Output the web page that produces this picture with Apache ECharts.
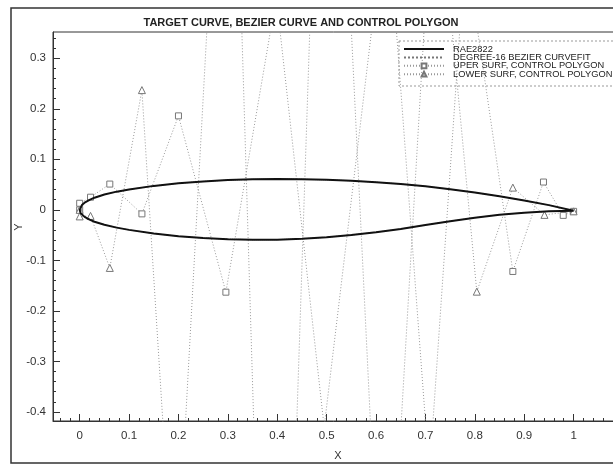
<!DOCTYPE html>
<html lang="en">
<head>
    <meta charset="UTF-8">
    <script src="https://cdn.jsdelivr.net/npm/echarts@6/dist/echarts.min.js"></script>
    <style>
        *{ margin: 0; padding: 0; }
        body { background: #fff; }
        #main { width: 613px; height: 467px; }
    </style>
</head>
<body>
<div id="main"></div>
<script>
    // RAE2822 target section
    var xUpper = [0, 0.002, 0.005, 0.01, 0.02, 0.03, 0.05, 0.075, 0.1, 0.15, 0.2, 0.25, 0.3, 0.35, 0.4, 0.45, 0.5, 0.55, 0.6, 0.65, 0.7, 0.75, 0.8, 0.85, 0.9, 0.95, 1.0];
    var yUpper = [0, 0.0065, 0.0102, 0.0142, 0.0198, 0.0240, 0.0303, 0.0360, 0.0404, 0.0474, 0.0525, 0.0562, 0.0588, 0.0603, 0.0608, 0.0605, 0.0594, 0.0575, 0.0548, 0.0512, 0.0465, 0.0408, 0.0342, 0.0268, 0.0185, 0.0093, -0.002];
    var xLower = [0, 0.002, 0.005, 0.01, 0.02, 0.03, 0.05, 0.075, 0.1, 0.15, 0.2, 0.25, 0.3, 0.35, 0.4, 0.45, 0.5, 0.55, 0.6, 0.65, 0.7, 0.75, 0.8, 0.85, 0.9, 0.95, 1.0];
    var yLower = [0, -0.0065, -0.0100, -0.0140, -0.0195, -0.0236, -0.0296, -0.0352, -0.0397, -0.0470, -0.0522, -0.0558, -0.0580, -0.0592, -0.0590, -0.0574, -0.0543, -0.0498, -0.0442, -0.0378, -0.0300, -0.0225, -0.0155, -0.0098, -0.0057, -0.0030, -0.002];

    // control polygons (vertices outside the frame estimated from where the edges cross it)
    var ctrlUpperX = [0, 0, 0.022, 0.061, 0.126, 0.2, 0.296, 0.398, 0.495, 0.622, 0.708, 0.781, 0.877, 0.939, 0.979, 1.0];
    var ctrlUpperY = [0, 0.013, 0.025, 0.051, -0.008, 0.186, -0.163, 0.421, -0.43, 0.608, -0.523, 0.519, -0.122, 0.055, -0.011, -0.003];
    var ctrlLowerX = [0, 0, 0.022, 0.061, 0.126, 0.193, 0.303, 0.394, 0.50, 0.617, 0.719, 0.804, 0.877, 0.941, 1.0];
    var ctrlLowerY = [0, -0.013, -0.012, -0.115, 0.237, -0.80, 1.17, -1.76, 1.36, -0.99, 0.72, -0.162, 0.044, -0.010, -0.003];

    var xTicks = [0, 0.1, 0.2, 0.3, 0.4, 0.5, 0.6, 0.7, 0.8, 0.9, 1];
    var yTicks = [-0.4, -0.3, -0.2, -0.1, 0, 0.1, 0.2, 0.3];
    var legendNames = ['RAE2822', 'DEGREE-16 BEZIER CURVEFIT', 'UPER SURF, CONTROL POLYGON', 'LOWER SURF, CONTROL POLYGON'];

    var xMin = -0.054, xMax = 1.1;
    var yMin = -0.418, yMax = 0.352;

    function pairs(xs, ys) {
        var out = [];
        for (var i = 0; i < xs.length; i++) out.push([xs[i], ys[i]]);
        return out;
    }
    // closed section: trailing edge -> upper -> leading edge -> lower -> trailing edge
    var section = pairs(xUpper, yUpper).reverse().concat(pairs(xLower, yLower).slice(1));

    function minors(major, lo, hi) {
        var step = (major[1] - major[0]) / 5, out = [];
        var start = Math.ceil(lo / step);
        for (var k = start; k * step <= hi; k++) {
            var v = Math.round(k * step * 1000) / 1000;
            if (major.indexOf(v) < 0) out.push(v);
        }
        return out;
    }

    var myChart = echarts.init(document.getElementById('main'));
    var txt = '#333';
    var font = 'Liberation Sans';
    var hideSym = { opacity: 0 };

    var option = {
        animation: false,
        backgroundColor: '#fff',
        title: {
            text: 'TARGET CURVE, BEZIER CURVE AND CONTROL POLYGON',
            left: 296,
            top: 12,
            textAlign: 'center',
            textStyle: { color: '#222', fontSize: 11, fontWeight: 'bold', fontFamily: font }
        },
        grid: {
            left: 53, right: -10, top: 32, bottom: 46,
            outerBoundsMode: 'none',
            show: true, borderColor: '#333', borderWidth: 1, backgroundColor: 'transparent'
        },
        legend: {
            orient: 'vertical',
            left: 403, top: 44.5,
            itemWidth: 40, itemHeight: 6, itemGap: -0.6,
            padding: 0,
            data: [
                { name: legendNames[0], itemStyle: hideSym },
                { name: legendNames[1], itemStyle: hideSym },
                legendNames[2],
                legendNames[3]
            ],
            textStyle: { color: '#222', fontSize: 9.3, fontFamily: font, padding: [0, 0, 0, 4] }
        },
        graphic: [
            { type: 'rect', z: 0, silent: true,
              shape: { x: 11, y: 8, width: 620, height: 455 },
              style: { fill: 'none', stroke: '#333', lineWidth: 1.5 } },
            { type: 'rect', z: 3, silent: true,
              shape: { x: 399, y: 41, width: 230, height: 45 },
              style: { fill: '#fff', stroke: '#999', lineWidth: 1, lineDash: [2, 2] } },
            { type: 'text', z: 3, silent: true,
              x: 19, y: 227, rotation: Math.PI / 2,
              style: { text: 'Y', fill: txt, font: '11px "Liberation Sans"', align: 'center', verticalAlign: 'middle' } }
        ],
        xAxis: [{
            type: 'value', min: xMin, max: xMax,
            name: 'X', nameLocation: 'middle', nameGap: 29,
            nameTextStyle: { color: txt, fontSize: 11, fontFamily: font },
            axisLine: { show: true, onZero: false, lineStyle: { color: '#333' } },
            axisTick: { show: true, inside: true, length: 7, customValues: xTicks, lineStyle: { color: '#333' } },
            axisLabel: { customValues: xTicks, color: txt, fontSize: 11.5, fontFamily: font, margin: 9,
                formatter: function (v) { return String(+v.toFixed(2)); } },
            splitLine: { show: false }
        }, {
            type: 'value', min: xMin, max: xMax, position: 'bottom',
            axisLine: { show: false, onZero: false },
            axisTick: { show: true, inside: true, length: 3, customValues: minors(xTicks, xMin, xMax), lineStyle: { color: '#333' } },
            axisLabel: { show: false },
            splitLine: { show: false }
        }],
        yAxis: [{
            type: 'value', min: yMin, max: yMax,
            axisLine: { show: true, onZero: false, lineStyle: { color: '#333' } },
            axisTick: { show: true, inside: true, length: 7, customValues: yTicks, lineStyle: { color: '#333' } },
            axisLabel: { customValues: yTicks, color: txt, fontSize: 11.5, fontFamily: font, margin: 7,
                formatter: function (v) { return String(+v.toFixed(2)); } },
            splitLine: { show: false }
        }, {
            type: 'value', min: yMin, max: yMax, position: 'left',
            axisLine: { show: false, onZero: false },
            axisTick: { show: true, inside: true, length: 3, customValues: minors(yTicks, yMin, yMax), lineStyle: { color: '#333' } },
            axisLabel: { show: false },
            splitLine: { show: false }
        }],
        series: [
            {
                name: legendNames[0], type: 'line', data: section,
                symbol: 'none', z: 5,
                lineStyle: { color: '#111', width: 2 },
                itemStyle: { color: '#111' }
            },
            {
                name: legendNames[1], type: 'line', data: section,
                symbol: 'none', z: 4,
                lineStyle: { color: '#777', width: 1, type: 'dotted' },
                itemStyle: { color: '#777' }
            },
            {
                name: legendNames[2], type: 'line', data: pairs(ctrlUpperX, ctrlUpperY),
                symbol: 'rect', symbolSize: 6, z: 3,
                lineStyle: { color: '#999', width: 1, type: [1, 2] },
                itemStyle: { color: '#fff', borderColor: '#777', borderWidth: 1 }
            },
            {
                name: legendNames[3], type: 'line', data: pairs(ctrlLowerX, ctrlLowerY),
                symbol: 'triangle', symbolSize: 7, z: 3,
                lineStyle: { color: '#999', width: 1, type: [1, 2] },
                itemStyle: { color: '#fff', borderColor: '#777', borderWidth: 1 }
            }
        ]
    };

    myChart.setOption(option);
</script>
</body>
</html>
